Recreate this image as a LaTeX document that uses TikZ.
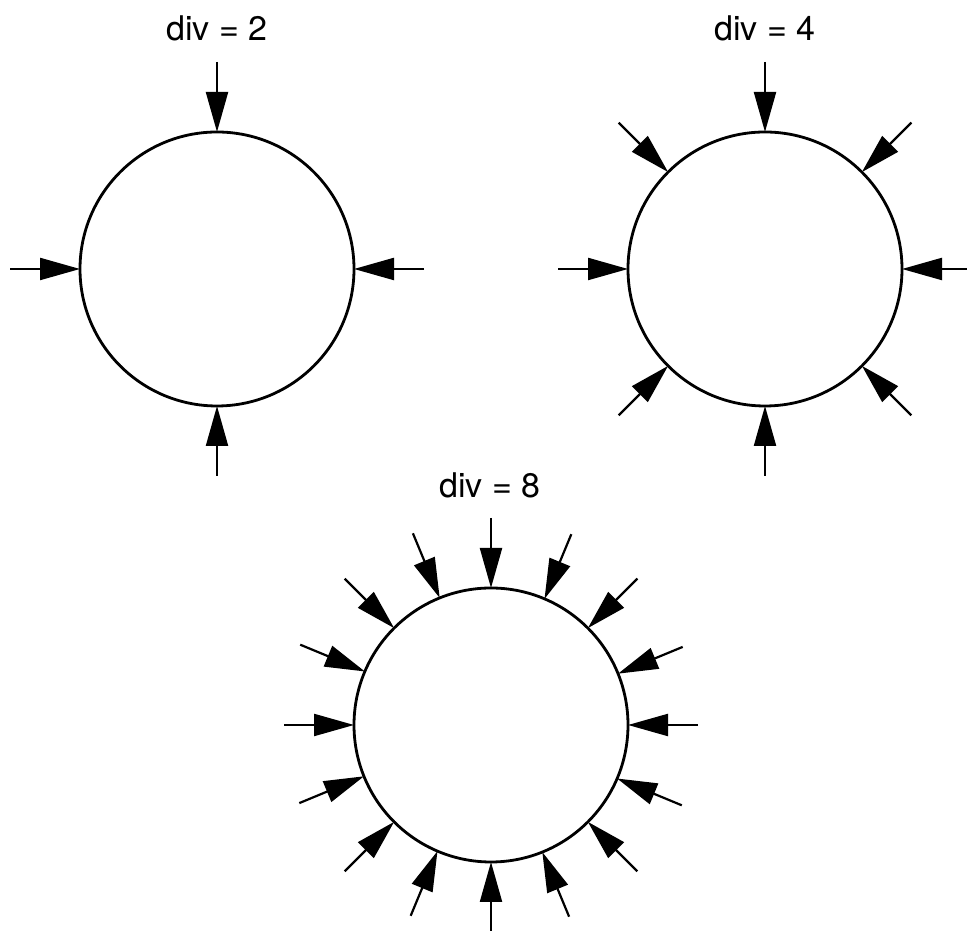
\documentclass[tikz,border=0pt]{standalone}
\usepackage{fontspec}
\setmainfont{TeX Gyre Heros}
\usetikzlibrary{arrows.meta}
\usetikzlibrary{positioning}
\tikzset{ring/.style={draw, circle, line width=2.8pt, minimum size=274pt, inner sep=0pt, outer sep=0pt},
  inarrow/.style={-{Triangle[length=40pt,width=22pt]}, line width=2.2pt, shorten >=0pt},
  divlabel/.style={font=\fontsize{34}{40}\selectfont}}

\begin{document}
\begin{tikzpicture}[x=1pt,y=1pt]
\useasboundingbox (0,0) rectangle (967,931);
%% three rings
\node (ring2) at (217,662) [ring] {};
\node (ring4) at (765,662) [ring] {};
\node (ring8) at (491,206) [ring] {};
%% labels
\node (lab2) at (217,903) [divlabel] {div = 2};
\node (lab4) at (765,903) [divlabel] {div = 4};
\node (lab8) at (490,446) [divlabel] {div = 8};
%% arrows
\foreach \i in {0,...,3} {
  \pgfmathsetmacro\a{\i*90}
  \coordinate (tail2-\i) at ([shift={(\a:70)}]ring2.\a);
  \draw [inarrow] (tail2-\i) -- (ring2.\a);
}
\foreach \i in {0,...,7} {
  \pgfmathsetmacro\a{\i*45}
  \coordinate (tail4-\i) at ([shift={(\a:70)}]ring4.\a);
  \draw [inarrow] (tail4-\i) -- (ring4.\a);
}
\foreach \i in {0,...,15} {
  \pgfmathsetmacro\a{\i*22.5}
  \coordinate (tail8-\i) at ([shift={(\a:70)}]ring8.\a);
  \draw [inarrow] (tail8-\i) -- (ring8.\a);
}
%
\end{tikzpicture}
\end{document}
